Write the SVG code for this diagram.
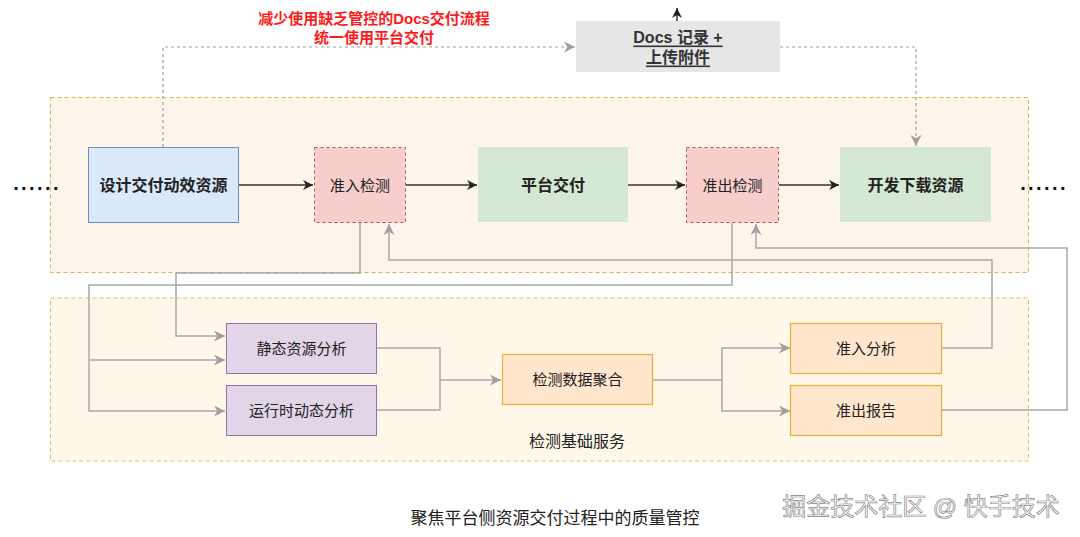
<svg xmlns="http://www.w3.org/2000/svg" width="1080" height="537" viewBox="0 0 1080 537">
<defs>
<marker id="ab" viewBox="0 0 10 10" refX="10" refY="5" markerWidth="10" markerHeight="10" markerUnits="userSpaceOnUse" orient="auto"><path d="M0,0 L10,5 L0,10 L3,5 z" fill="#222"/></marker>
<marker id="ag" viewBox="0 0 10 10" refX="10" refY="5" markerWidth="11" markerHeight="11" markerUnits="userSpaceOnUse" orient="auto"><path d="M0,0 L10,5 L0,10 L3,5 z" fill="#a0a0a0"/></marker>
</defs>
<style>
text{font-family:"Liberation Sans","Noto Sans CJK SC",sans-serif;text-anchor:middle;dominant-baseline:central}
.cn{font-size:15px;fill:#222}
.b{font-weight:bold;font-size:16px}
.lbl{font-size:16px;fill:#222}
.cap{font-size:17px;fill:#222}
.blk{fill:none;stroke:#333;stroke-width:1.5}
.gl{fill:none;stroke:#a8a8a8;stroke-width:1.5}
.dl{fill:none;stroke:#a0a0a0;stroke-width:1.2;stroke-dasharray:3 3}
.pink{fill:#f8cecc;stroke:#b85450;stroke-dasharray:3 3}
.purp{fill:#e1d5e7;stroke:#9673a6}
.org{fill:#ffe6cc;stroke:#e3b43f;stroke-width:1.3}
.green{fill:#d5e8d4}
</style>
<rect width="1080" height="537" fill="#ffffff"/>
<g id="container-top"><rect x="50.5" y="97.5" width="978" height="175" fill="#fdf4ea" stroke="#d9b44a" stroke-dasharray="4 3"/></g>
<g id="container-bottom"><rect x="50.5" y="298" width="978" height="163" fill="#fff8ea" stroke="#e2c260" stroke-dasharray="4 3"/>
<text class="lbl" x="577" y="441">检测基础服务</text></g>
<g id="note"><text x="374" y="18" font-size="15" font-weight="bold" fill="#ff1a1a">减少使用缺乏管控的Docs交付流程</text>
<text x="374" y="37" font-size="15" font-weight="bold" fill="#ff1a1a">统一使用平台交付</text></g>
<g id="dots-left"><text x="37" y="183" font-size="20" font-weight="bold" fill="#111" letter-spacing="2.4">......</text></g>
<g id="dots-right"><text x="1044" y="183" font-size="20" font-weight="bold" fill="#111" letter-spacing="2.4">......</text></g>
<g id="connectors">
<path class="blk" d="M239,185 H313" marker-end="url(#ab)"/>
<path class="blk" d="M406,185 H477" marker-end="url(#ab)"/>
<path class="blk" d="M628,185 H685" marker-end="url(#ab)"/>
<path class="blk" d="M779,185 H839" marker-end="url(#ab)"/>
<path class="blk" d="M677,21 V8" marker-end="url(#ab)"/>
<path class="dl" d="M163,147 V47 H575" marker-end="url(#ag)"/>
<path class="dl" d="M780,47 H916 V146" marker-end="url(#ag)"/>
<path class="gl" d="M360,223 V273 H176 V336 H225" marker-end="url(#ag)"/>
<path class="gl" d="M732,223 V285 H89 V411 H225" marker-end="url(#ag)"/>
<path class="gl" d="M89,360 H225" marker-end="url(#ag)"/>
<path class="gl" d="M377,348 H440 V380 H501" marker-end="url(#ag)"/>
<path class="gl" d="M377,410 H440 V380"/>
<path class="gl" d="M653,380 H722 V348 H790" marker-end="url(#ag)"/>
<path class="gl" d="M722,380 V411 H790" marker-end="url(#ag)"/>
<path class="gl" d="M942,348 H992 V260 H389 V224" marker-end="url(#ag)"/>
<path class="gl" d="M942,410 H1067 V248 H756 V224" marker-end="url(#ag)"/>
</g>
<g id="docs"><rect x="576" y="21" width="204" height="51" fill="#e6e6e6"/>
<text x="678" y="37" font-size="16" font-weight="bold" fill="#333" text-decoration="underline">Docs 记录 +</text>
<text x="678" y="57" font-size="16" font-weight="bold" fill="#333" text-decoration="underline">上传附件</text></g>
<g id="design"><rect x="88.5" y="147.5" width="150" height="75" fill="#dae8fc" stroke="#6c8ebf"/>
<text class="cn b" x="163.5" y="185">设计交付动效资源</text></g>
<g id="entry-check"><rect x="314.5" y="147.5" width="91" height="75" class="pink"/>
<text class="cn" x="360" y="185">准入检测</text></g>
<g id="platform"><rect x="478" y="147" width="150" height="75" class="green"/>
<text class="cn b" x="553" y="185">平台交付</text></g>
<g id="exit-check"><rect x="686.5" y="147.5" width="92" height="75" class="pink"/>
<text class="cn" x="732.5" y="185">准出检测</text></g>
<g id="download"><rect x="840" y="147" width="151" height="75" class="green"/>
<text class="cn b" x="915.5" y="185">开发下载资源</text></g>
<g id="static"><rect x="226.5" y="323.5" width="150" height="50" class="purp"/>
<text class="cn" x="301.5" y="348">静态资源分析</text></g>
<g id="runtime"><rect x="226.5" y="385.5" width="150" height="50" class="purp"/>
<text class="cn" x="301.5" y="410">运行时动态分析</text></g>
<g id="aggregate"><rect x="502.5" y="354.5" width="150" height="50" class="org"/>
<text class="cn" x="577.5" y="379">检测数据聚合</text></g>
<g id="entry-analysis"><rect x="790.5" y="323.5" width="151" height="50" class="org"/>
<text class="cn" x="866" y="348">准入分析</text></g>
<g id="exit-report"><rect x="790.5" y="385.5" width="151" height="50" class="org"/>
<text class="cn" x="866" y="410">准出报告</text></g>
<g id="caption"><text class="cap" x="555" y="518">聚焦平台侧资源交付过程中的质量管控</text></g>
<g id="watermark"><text x="921" y="506" font-size="24" fill="#ffffff" stroke="#8a8a8a" stroke-width="0.7">掘金技术社区 @ 快手技术</text></g>
</svg>
